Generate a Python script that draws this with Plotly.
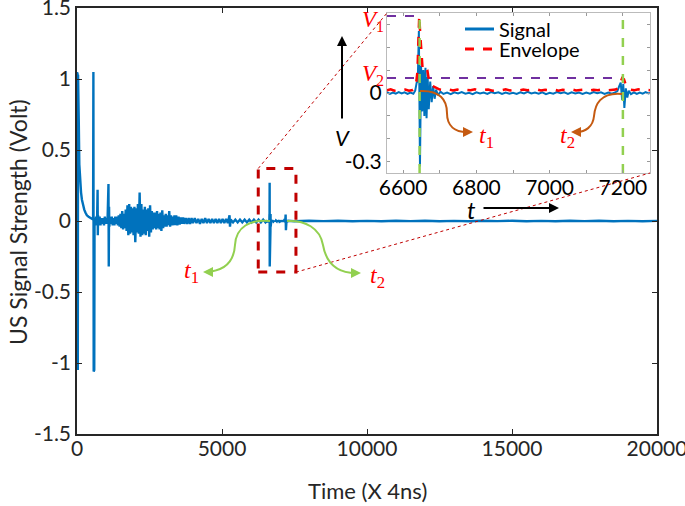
import plotly.graph_objects as go

# ---------------- data ----------------
# main ultrasonic signal (time in units of 4 ns, value in Volt)
sig_t = [0, 5, 12, 20, 28, 36, 44, 52, 60, 80, 110, 140, 170, 210, 250, 290, 340, 400, 460, 520,
         555, 565, 575, 585, 595, 605, 630, 660, 690, 710, 718, 726, 750, 780, 810, 840, 870, 900,
         930, 960, 990, 1020, 1050, 1085, 1095, 1105, 1115, 1140, 1170, 1200, 1230, 1260, 1290,
         1320, 1350, 1380, 1410, 1440, 1470, 1500, 1530, 1560, 1590, 1620, 1650, 1680, 1710, 1740,
         1770, 1800, 1830, 1860, 1890, 1920, 1950, 1980, 2010, 2040, 2070, 2100, 2130, 2160, 2190,
         2220, 2250, 2280, 2310, 2340, 2370, 2400, 2430, 2460, 2490, 2520, 2550, 2580, 2610, 2640,
         2670, 2700, 2730, 2760, 2790, 2820, 2850, 2880, 2910, 2940, 2970, 3000, 3030, 3060, 3090,
         3120, 3150, 3180, 3210, 3240, 3270, 3300, 3330, 3360, 3390, 3420, 3460, 3500, 3540, 3580,
         3620, 3660, 3700, 3750, 3800, 3850, 3900, 3950, 4000, 4060, 4120, 4180, 4240, 4300, 4360,
         4420, 4480, 4540, 4600, 4660, 4720, 4780, 4840, 4900, 4960, 5020, 5080, 5140, 5200, 5260,
         5275, 5300, 5380, 5460, 5540, 5620, 5700, 5780, 5860, 5940, 6020, 6100, 6180, 6260, 6340,
         6420, 6500,
         6556, 6564, 6572, 6580, 6588, 6596, 6604, 6612, 6620, 6628, 6633, 6637, 6640, 6643, 6646,
         6649, 6652, 6655, 6658, 6661, 6664, 6667, 6670, 6674, 6678, 6682, 6686, 6690, 6695, 6702,
         6710, 6720, 6730, 6740, 6750, 6760, 6770, 6780, 6790, 6800, 6810, 6820, 6830, 6840, 6850,
         6860, 6870, 6880, 6890, 6900, 6910, 6920, 6930, 6940, 6950, 6960, 6970, 6980, 6990, 7000,
         7010, 7020, 7030, 7040, 7050, 7060, 7070, 7080, 7090, 7100, 7110, 7120, 7130, 7140, 7150,
         7160, 7170, 7180, 7185, 7190, 7194, 7198, 7201, 7204, 7208, 7212, 7216, 7222, 7230, 7238,
         7246, 7254, 7262, 7270, 7280,
         7500, 8000, 8500, 9000, 9500, 10000, 10500, 11000, 11500, 12000, 12500,
         13000, 13500, 14000, 14500, 15000, 15500, 16000, 16500, 17000, 17500, 18000, 18500,
         19000, 19500, 20000]
sig_v = [0, 1.05, -1.05, 1.04, -1.05, 1.03, -1.02, 1.0, 0.72, 0.40, 0.27, 0.2, 0.15, 0.11, 0.08,
         0.06, 0.04, 0.03, 0.02, 0.015,
         0.01, 1.05, -1.06, 1.05, -1.05, 0.02, -0.03, 0.03, -0.02, 0.22, -0.1, 0.04, -0.03, 0.03,
         -0.03, 0.02, -0.02, 0.02,
         -0.03, 0.03, -0.02, 0.02, -0.02, 0.26, -0.32, 0.1, -0.04, 0.03, -0.02, 0.03, -0.03, 0.02,
         -0.03,
         0.03, -0.02, 0.03, -0.03, 0.04, -0.04, 0.05, -0.05, 0.07, -0.06, 0.05, -0.05, 0.08, -0.07,
         0.11,
         -0.1, 0.12, -0.09, 0.1, -0.08, 0.09, -0.1, 0.1, -0.15, 0.09, -0.08, 0.12, -0.09, 0.2, -0.11,
         0.12, -0.1, 0.08, -0.09, 0.1, -0.1, 0.08, -0.07, 0.09, -0.11, 0.11, -0.08, 0.07, -0.06, 0.06,
         -0.05, 0.06, -0.06, 0.07, -0.05, 0.05, -0.06, 0.06, -0.07, 0.075, -0.05, 0.04, -0.04, 0.05,
         -0.04,
         0.04, -0.03, 0.07, -0.04, 0.04, -0.03, 0.03, -0.03, 0.04, -0.03, 0.04, -0.03, 0.03, -0.025,
         0.025,
         -0.02, 0.025, -0.02, 0.02, -0.02, 0.02, -0.02, 0.02, -0.015, 0.02, -0.015, 0.015, -0.02,
         0.015, -0.015,
         0.02, -0.015, 0.015, -0.015, 0.015, -0.015, 0.015, -0.015, 0.015, -0.015, 0.015, -0.015,
         0.015, -0.015, 0.04,
         -0.04, 0.01, -0.01, 0.01, -0.01, 0.01, -0.01, 0.01, -0.01, 0.01, -0.01, 0.01, -0.01, 0.01,
         -0.01,
         0.01, -0.01,
         0.003, -0.004, 0.002, -0.003, 0.004, -0.002, 0.003, -0.004, 0.002, -0.003, 0.01, 0.045,
         0.05, 0.27, -0.32,
         0.12, -0.08, 0.1, -0.1, 0.11, -0.11, 0.07, -0.07, 0.05, -0.04, 0.03, -0.025, 0.015, -0.01,
         0.006,
         -0.004, 0.002, -0.005, 0.003, -0.002, 0.004, -0.003, 0.001, -0.005, 0.003, -0.002, 0.002,
         -0.004, 0.004, -0.001,
         0.003, -0.004, 0.002, -0.003, 0.001, -0.004, 0.003, -0.002, 0.005, -0.002, 0.002, -0.003,
         0.003, -0.005, 0.001,
         -0.003, 0.004, -0.001, 0.003, -0.004, 0.003, -0.002, 0.002, -0.004, 0.002, -0.003, 0.004,
         -0.001, 0.003, -0.004,
         0.002, -0.003, 0.004, 0.008, 0.03, 0.045, -0.03, 0.04, -0.065, 0.02, -0.02, 0.01, -0.005,
         0.003, -0.004,
         0.002, -0.003, 0.004, -0.002, 0.002,
         -0.002, 0.002, -0.001, 0.002, -0.002, 0.001, -0.002, 0.002, -0.001, 0.002, -0.002,
         0.001, -0.002, 0.002, -0.001, 0.002, -0.002, 0.001, -0.002, 0.002, -0.001, 0.002,
         -0.002, 0.001, -0.002, 0.001]

# envelope of the zoomed part
env_t = [6556, 6566, 6576, 6586, 6596, 6606, 6616, 6626, 6632, 6636, 6639, 6641, 6644, 6647, 6650,
         6653, 6657, 6662, 6666, 6670, 6675, 6682, 6690, 6700, 6712, 6724, 6736, 6748, 6760, 6772,
         6784, 6796, 6808, 6820, 6832, 6844, 6856, 6868, 6880, 6892, 6904, 6916, 6928, 6940, 6952,
         6964, 6976, 6988, 7000, 7012, 7024, 7036, 7048, 7060, 7072, 7084, 7096, 7108, 7120, 7132,
         7144, 7156, 7168, 7180, 7186, 7192, 7198, 7203, 7208, 7214, 7222, 7232, 7242, 7252, 7262,
         7274]
env_v = [0.012, 0.016, 0.01, 0.014, 0.011, 0.015, 0.01, 0.013, 0.02, 0.05, 0.09, 0.2, 0.335, 0.25,
         0.15, 0.11, 0.1, 0.11, 0.1, 0.06, 0.035, 0.03, 0.022, 0.015, 0.012, 0.016, 0.011, 0.015,
         0.01, 0.014, 0.012, 0.016, 0.011, 0.013, 0.015, 0.01, 0.014, 0.012, 0.016, 0.011, 0.014,
         0.01, 0.015, 0.012, 0.013, 0.016, 0.011, 0.014, 0.012, 0.015, 0.01, 0.014, 0.012, 0.016,
         0.011, 0.013, 0.015, 0.01, 0.014, 0.012, 0.016, 0.011, 0.014, 0.015, 0.02, 0.045, 0.065,
         0.06, 0.035, 0.02, 0.014, 0.012, 0.016, 0.011, 0.014, 0.012]

v1_level = 0.335
v2_level = 0.065
t1_time = 6645
t2_time = 7200

main_xticks = [0, 5000, 10000, 15000, 20000]
main_yticks = [-1.5, -1, -0.5, 0, 0.5, 1, 1.5]
main_yticklabels = ["-1.5", "-1", "-0.5", "0", "0.5", "1", "1.5"]
inset_xticks = [6600, 6700, 6800, 6900, 7000, 7100, 7200]
inset_xticklabels = ["6600", "", "6800", "", "7000", "", "7200"]
inset_yticks = [-0.3, -0.2, -0.1, 0, 0.1, 0.2, 0.3]
inset_yticklabels = ["-0.3", "", "", "0", "", "", ""]

# ---------------- layout helpers ----------------
W, H = 685, 506
L, R, T, B = 77, 657, 8, 434          # main plot area in pixels


def px(x):
    return (x - L) / (R - L)


def py(y):
    return (B - y) / (B - T)


def bez(pts):
    """pts: start point then triples of cubic control points (pixels) -> paper path"""
    s = "M %.4f,%.4f" % (px(pts[0][0]), py(pts[0][1]))
    for i in range(1, len(pts), 3):
        a, b, c = pts[i], pts[i + 1], pts[i + 2]
        s += " C %.4f,%.4f %.4f,%.4f %.4f,%.4f" % (px(a[0]), py(a[1]), px(b[0]), py(b[1]),
                                                  px(c[0]), py(c[1]))
    return s


BLUE = "#0072BD"
RED = "#FF0000"
DARKRED = "#C00000"
GREEN = "#92D050"
PURPLE = "#7030A0"
ORANGE = "#C55A11"
AX = "#262626"
FONT = "Lato"

inset_x_rng = [6556, 7274]
inset_y_rng = [-0.348, 0.348]

fig = go.Figure()

# main signal
fig.add_trace(go.Scatter(x=sig_t, y=sig_v, mode="lines", line=dict(color=BLUE, width=2.4),
                         xaxis="x", yaxis="y", showlegend=False, name="Signal"))

# inset traces
fig.add_trace(go.Scatter(x=[inset_x_rng[0], t1_time], y=[v1_level, v1_level], mode="lines",
                         line=dict(color=PURPLE, width=2, dash="dash"), xaxis="x2", yaxis="y2",
                         showlegend=False, hoverinfo="skip"))
fig.add_trace(go.Scatter(x=[inset_x_rng[0], t2_time], y=[v2_level, v2_level], mode="lines",
                         line=dict(color=PURPLE, width=2, dash="dash"), xaxis="x2", yaxis="y2",
                         showlegend=False, hoverinfo="skip"))
fig.add_trace(go.Scatter(x=sig_t, y=sig_v, mode="lines", line=dict(color=BLUE, width=2),
                         xaxis="x2", yaxis="y2", name="Signal", showlegend=False))
fig.add_trace(go.Scatter(x=env_t, y=env_v, mode="lines",
                         line=dict(color=RED, width=2.5, dash="dash"),
                         xaxis="x2", yaxis="y2", name="Envelope", showlegend=False))
for tt in (t1_time, t2_time):
    fig.add_trace(go.Scatter(x=[tt, tt], y=inset_y_rng, mode="lines",
                             line=dict(color=GREEN, width=2.5, dash="dash"),
                             xaxis="x2", yaxis="y2", showlegend=False, hoverinfo="skip"))

shapes = []
# dashed box around the zoomed region
box = dict(x0=6250, x1=7550, y0=-0.36, y1=0.37)
shapes.append(dict(type="rect", xref="x", yref="y", **box,
                   line=dict(color=DARKRED, width=3, dash="dash")))
# zoom guide lines
ix0, ix1 = px(387), px(650)
iy0, iy1 = py(173), py(13)
shapes.append(dict(type="line", xref="paper", yref="paper", x0=box["x0"] / 20000,
                   y0=(box["y1"] + 1.5) / 3, x1=ix0, y1=iy1,
                   line=dict(color=DARKRED, width=1, dash="dot")))
shapes.append(dict(type="line", xref="paper", yref="paper", x0=box["x1"] / 20000,
                   y0=(box["y0"] + 1.5) / 3, x1=ix1, y1=iy0,
                   line=dict(color=DARKRED, width=1, dash="dot")))
# green curved arrows (main)
shapes.append(dict(type="path", xref="paper", yref="paper", line=dict(color=GREEN, width=2),
                   path=bez([(270, 221), (250, 219), (236, 227), (235, 245),
                             (234, 262), (225, 271), (206, 272)])))
shapes.append(dict(type="path", xref="paper", yref="paper", line=dict(color=GREEN, width=2),
                   path=bez([(287, 221), (305, 220), (320, 228), (323, 245),
                             (326, 262), (335, 273), (356, 273)])))
# orange curved arrows (inset)
shapes.append(dict(type="path", xref="paper", yref="paper", line=dict(color=ORANGE, width=2),
                   path=bez([(420, 91), (440, 90), (447, 100), (447, 113),
                             (447, 126), (455, 132), (467, 132)])))
shapes.append(dict(type="path", xref="paper", yref="paper", line=dict(color=ORANGE, width=2),
                   path=bez([(622, 94), (600, 92), (595, 105), (594, 116),
                             (593, 127), (585, 132), (577, 132)])))
# manual legend samples
shapes.append(dict(type="line", xref="paper", yref="paper", x0=px(465), x1=px(494),
                   y0=py(29), y1=py(29), line=dict(color=BLUE, width=3)))
shapes.append(dict(type="line", xref="paper", yref="paper", x0=px(465), x1=px(494),
                   y0=py(49), y1=py(49), line=dict(color=RED, width=3, dash="dash")))

ann = []


def arrow(hx, hy, ax, ay, color, width=2):
    ann.append(dict(xref="paper", yref="paper", x=px(hx), y=py(hy), ax=ax, ay=ay, text="",
                    showarrow=True, arrowhead=2, arrowsize=1, arrowwidth=width,
                    arrowcolor=color))


def label(x, y, text, color="black", size=20, family=FONT, anchor="center", angle=0):
    ann.append(dict(xref="paper", yref="paper", x=px(x), y=py(y), text=text, showarrow=False,
                    xanchor=anchor, yanchor="middle", textangle=angle,
                    font=dict(color=color, size=size, family=family)))


arrow(203, 272, 10, 0, GREEN)
arrow(361, 273, -10, 0, GREEN)
arrow(473, 132, -10, 0, ORANGE)
arrow(571, 132, 10, 0, ORANGE)
arrow(342, 36, 0, 84, "black")
arrow(559, 208, -77, 0, "black")

SERIF = "Liberation Serif"
label(191, 272, "<i>t</i><sub>1</sub>", RED, 24, SERIF)
label(377, 277, "<i>t</i><sub>2</sub>", RED, 24, SERIF)
label(486, 137, "<i>t</i><sub>1</sub>", RED, 24, SERIF)
label(567, 137, "<i>t</i><sub>2</sub>", RED, 24, SERIF)
label(386, 21, "<i>V</i><sub>1</sub>", RED, 23, SERIF, anchor="right")
label(386, 75, "<i>V</i><sub>2</sub>", RED, 23, SERIF, anchor="right")
label(342, 137, "<i>V</i>", "black", 22)
label(471, 209, "<i>t</i>", "black", 24)
label(497, 29, "Signal", "black", 20, anchor="left")
label(497, 49, "Envelope", "black", 20, anchor="left")

# axis titles
label(367, 490, "Time (X 4ns)", AX, 22)
label(18, 222, "US Signal Strength (Volt)", AX, 23, angle=-90)

common = dict(showgrid=False, zeroline=False, showline=True, mirror="ticks", ticks="inside",
              automargin=False, ticklabeloverflow="allow")

fig.update_layout(
    width=W, height=H,
    margin=dict(l=L, r=W - R, t=T, b=H - B, autoexpand=False),
    paper_bgcolor="white", plot_bgcolor="white",
    font=dict(family=FONT, size=21, color=AX),
    showlegend=False,
    shapes=shapes, annotations=ann,
    xaxis=dict(range=[0, 20000], domain=[0, 1], tickvals=main_xticks,
               ticktext=[str(v) for v in main_xticks], linecolor=AX, linewidth=1.5,
               ticklen=5, tickcolor=AX, tickfont=dict(size=21), ticklabelstandoff=-5, **common),
    yaxis=dict(range=[-1.5, 1.5], domain=[0, 1], tickvals=main_yticks, ticktext=main_yticklabels,
               linecolor=AX, linewidth=1.5, ticklen=5, tickcolor=AX, tickfont=dict(size=21),
               **common),
    xaxis2=dict(range=inset_x_rng, domain=[ix0, ix1], anchor="y2", tickvals=inset_xticks,
                ticktext=inset_xticklabels, linecolor="#BBBBBB", linewidth=1, ticklen=3,
                tickcolor="#999999", tickfont=dict(size=21, color="black"),
                ticklabelstandoff=-4, **common),
    yaxis2=dict(range=inset_y_rng, domain=[iy0, iy1], anchor="x2", tickvals=inset_yticks,
                ticktext=inset_yticklabels, linecolor="#BBBBBB", linewidth=1, ticklen=3,
                tickcolor="#999999", tickfont=dict(size=21, color="black"), **common),
)

# the page's default 8px body margin would shift the figure; remove it
fig.write_html("out.html", config={"displayModeBar": False},
               post_script="document.body.style.margin='0';document.body.style.overflow='hidden';")
